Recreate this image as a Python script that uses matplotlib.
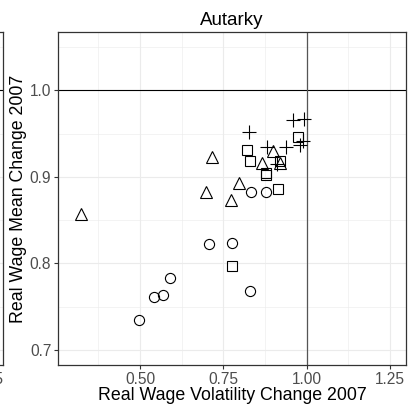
import numpy as np
import matplotlib
matplotlib.use("Agg")
import matplotlib.pyplot as plt
from matplotlib.ticker import MultipleLocator

plt.rcParams['font.family'] = ['Liberation Sans', 'DejaVu Sans']

# groups (volatility change, mean change)
circle_x = [0.590, 0.570, 0.543, 0.498, 0.707, 0.776, 0.829, 0.834, 0.877]
circle_y = [0.783, 0.764, 0.761, 0.735, 0.823, 0.824, 0.768, 0.882, 0.882]

square_x = [0.776, 0.913, 0.877, 0.878, 0.822, 0.829, 0.921, 0.974]
square_y = [0.797, 0.886, 0.902, 0.905, 0.931, 0.918, 0.918, 0.946]

triangle_x = [0.323, 0.699, 0.773, 0.798, 0.717, 0.865, 0.899, 0.921]
triangle_y = [0.857, 0.882, 0.873, 0.893, 0.923, 0.916, 0.930, 0.916]

cross_x = [0.826, 0.880, 0.939, 0.911, 0.959, 0.992, 0.980, 0.990]
cross_y = [0.952, 0.934, 0.934, 0.915, 0.966, 0.967, 0.937, 0.941]

xlim = (0.255, 1.297)
ylim = (0.683, 1.067)
x_major = [0.50, 0.75, 1.00, 1.25]
y_major = [0.7, 0.8, 0.9, 1.0]

GRID = '#EBEBEB'
BORDER = '#333333'
TICKTXT = '#4D4D4D'


def style_panel(ax):
    ax.set_xlim(*xlim)
    ax.set_ylim(*ylim)
    ax.set_xticks(x_major)
    ax.set_yticks(y_major)
    ax.xaxis.set_minor_locator(MultipleLocator(0.125))
    ax.yaxis.set_minor_locator(MultipleLocator(0.05))
    ax.grid(which='major', color=GRID, lw=0.8)
    ax.grid(which='minor', color=GRID, lw=0.4)
    ax.set_axisbelow(True)
    for s in ax.spines.values():
        s.set_color(BORDER)
        s.set_linewidth(0.9)
    ax.tick_params(which='major', length=3, width=0.8, color=BORDER,
                   labelsize=11.2, labelcolor=TICKTXT, pad=2)
    ax.tick_params(which='minor', length=0)
    ax.axhline(1.0, color='black', lw=0.8, zorder=1)


fig = plt.figure(figsize=(4.09, 4.04), dpi=100)
W, H = 409, 404
left, right, top, bottom = 58.3, 405.7, 32.3, 364.7

# neighbouring facet, only its right edge shows
ax0 = fig.add_axes([(3 - (right - left)) / W, (H - bottom) / H,
                    (right - left) / W, (bottom - top) / H])
style_panel(ax0)
ax0.set_xlim(0.255, 1.292)
ax0.set_yticklabels([])

ax = fig.add_axes([left / W, (H - bottom) / H, (right - left) / W, (bottom - top) / H])
style_panel(ax)
ax.axvline(1.0, color='#555555', lw=0.9, zorder=1)

mk = dict(linestyle='none', mfc='none', mec='black', mew=0.8, zorder=3)
ax.plot(circle_x, circle_y, marker='o', ms=7.3, **mk)
ax.plot(square_x, square_y, marker='s', ms=7, **mk)
ax.plot(triangle_x, triangle_y, marker='^', ms=8.5, **mk)
ax.plot(cross_x, cross_y, marker='+', ms=10, **mk)

ax.set_xlabel('Real Wage Volatility Change 2007', fontsize=12.8, labelpad=0)
ax.set_ylabel('Real Wage Mean Change 2007', fontsize=12.8, labelpad=2)
ax.set_title('Autarky', fontsize=13.5, pad=5)

fig.savefig('out.png', dpi=100)
